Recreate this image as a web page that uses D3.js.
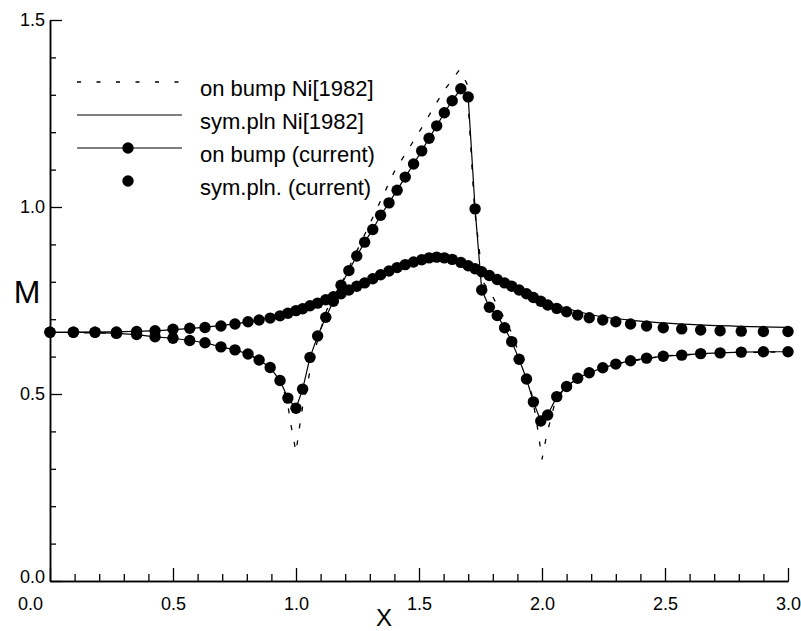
<!DOCTYPE html>
<html><head><meta charset="utf-8">
<script src="https://cdn.jsdelivr.net/npm/d3@7"></script>
<style>
body{margin:0;background:#fff}
svg{display:block}
text{font-family:"Liberation Sans",Arial,Helvetica,sans-serif;fill:#000}
</style>
</head><body>
<svg id="chart" width="801" height="631"></svg>
<script>
// ---- data ----
const gridX = [0, 0.095, 0.183, 0.27, 0.352, 0.427, 0.50, 0.568, 0.63, 0.695, 0.752, 0.805, 0.85, 0.895, 0.935, 0.967, 1.0,
  1.027, 1.057, 1.088, 1.121, 1.152, 1.183, 1.215, 1.247, 1.279, 1.312, 1.344, 1.378, 1.411, 1.444, 1.478, 1.511,
  1.541, 1.572, 1.603, 1.635, 1.670, 1.700, 1.728, 1.755, 1.786, 1.818, 1.848, 1.877, 1.907, 1.937, 1.965, 1.995,
  2.023, 2.06, 2.10, 2.145, 2.192, 2.247, 2.30, 2.36, 2.425, 2.493, 2.568, 2.645, 2.724, 2.81, 2.90, 3.0];

const onBumpCurrent = [0.665, 0.665, 0.665, 0.662, 0.659, 0.653, 0.649, 0.643, 0.637, 0.626, 0.618, 0.607, 0.591, 0.571, 0.536, 0.489, 0.462,
  0.513, 0.598, 0.655, 0.705, 0.748, 0.791, 0.830, 0.869, 0.906, 0.940, 0.978, 1.011, 1.045, 1.080, 1.115, 1.150,
  1.184, 1.217, 1.252, 1.284, 1.316, 1.294, 0.995, 0.778, 0.732, 0.710, 0.677, 0.640, 0.593, 0.540, 0.479, 0.428,
  0.444, 0.493, 0.520, 0.542, 0.557, 0.570, 0.580, 0.589, 0.596, 0.601, 0.604, 0.608, 0.610, 0.612, 0.613, 0.613];

const symPlnCurrent = [0.665, 0.665, 0.665, 0.666, 0.667, 0.669, 0.673, 0.676, 0.678, 0.682, 0.687, 0.693, 0.698, 0.703, 0.709, 0.716, 0.723,
  0.728, 0.736, 0.743, 0.752, 0.760, 0.768, 0.778, 0.788, 0.797, 0.808, 0.819, 0.829, 0.838, 0.846, 0.853, 0.859,
  0.864, 0.866, 0.864, 0.860, 0.852, 0.843, 0.835, 0.827, 0.817, 0.806, 0.797, 0.788, 0.778, 0.768, 0.758, 0.748,
  0.738, 0.729, 0.720, 0.711, 0.704, 0.698, 0.693, 0.687, 0.682, 0.677, 0.674, 0.671, 0.669, 0.668, 0.667, 0.667];

const niOnBumpX = [0, 0.3, 0.5, 0.7, 0.8, 0.9, 0.94, 0.965, 0.978, 1.0, 1.013, 1.03, 1.06, 1.09, 1.125, 1.2, 1.226, 1.3, 1.4, 1.5, 1.6, 1.664,
  1.695, 1.725, 1.76, 1.789, 1.836, 1.874, 1.901, 1.931, 1.96, 1.981, 2.0, 2.015, 2.022, 2.05, 2.08, 2.12, 2.2, 2.3, 2.5, 2.7, 3.0];
const niOnBumpM = [0.665, 0.662, 0.650, 0.628, 0.610, 0.570, 0.530, 0.480, 0.422, 0.345, 0.406, 0.479, 0.570, 0.650, 0.725, 0.815, 0.853, 0.955, 1.095, 1.200, 1.310, 1.366,
  1.330, 1.000, 0.800, 0.773, 0.716, 0.667, 0.618, 0.564, 0.495, 0.413, 0.325, 0.377, 0.399, 0.470, 0.505, 0.530, 0.559, 0.581, 0.602, 0.609, 0.613];

const niSymX = [0, 0.3, 0.6, 0.8, 1.0, 1.2, 1.4, 1.57, 1.75, 1.9, 2.0, 2.2, 2.4, 2.6, 2.8, 3.0];
const niSymM = [0.665, 0.667, 0.677, 0.692, 0.724, 0.773, 0.836, 0.867, 0.830, 0.782, 0.752, 0.712, 0.695, 0.686, 0.681, 0.678];

const xMajorTicks = [0, 0.5, 1.0, 1.5, 2.0, 2.5, 3.0];
const xMinorTicks = [0.1, 0.2, 0.3, 0.4, 0.6, 0.7, 0.8, 0.9, 1.1, 1.2, 1.3, 1.4, 1.6, 1.7, 1.8, 1.9, 2.1, 2.2, 2.3, 2.4, 2.6, 2.7, 2.8, 2.9];
const yMajorTicks = [0, 0.5, 1.0, 1.5];
const yMinorTicks = [0.1, 0.2, 0.3, 0.4, 0.6, 0.7, 0.8, 0.9, 1.1, 1.2, 1.3, 1.4];
const legendLabels = ["on bump Ni[1982]", "sym.pln Ni[1982]", "on bump (current)", "sym.pln. (current)"];
const xTitle = "X";
const yTitle = "M";

// ---- drawing ----
const svg = d3.select("#chart");
const x = d3.scaleLinear().domain([0, 3]).range([50, 788]);
const y = d3.scaleLinear().domain([0, 1.5]).range([581, 20]);
const fmt = d3.format(".1f");

function styleAxis(g) {
  g.attr("font-size", 18).attr("font-family", '"Liberation Sans", Arial, sans-serif');
  g.selectAll("path.domain").attr("stroke", "#000").attr("stroke-width", 1.5);
  g.selectAll(".tick line").attr("stroke", "#000").attr("stroke-width", 1.3);
  g.selectAll("text").attr("font-size", 18).attr("fill", "#000");
}

// x axis
const gxMinor = svg.append("g").attr("transform", `translate(0,${y(0)})`)
  .call(d3.axisBottom(x).tickValues(xMinorTicks).tickSizeInner(-7).tickSizeOuter(0).tickFormat(""));
styleAxis(gxMinor);
const gx = svg.append("g").attr("transform", `translate(0,${y(0)})`)
  .call(d3.axisBottom(x).tickValues(xMajorTicks).tickSizeInner(-13).tickSizeOuter(0).tickPadding(16).tickFormat(fmt));
styleAxis(gx);
gx.selectAll(".tick text").filter(d => d === 0).attr("dx", -20);

// y axis
const gyMinor = svg.append("g").attr("transform", `translate(${x(0)},0)`)
  .call(d3.axisLeft(y).tickValues(yMinorTicks).tickSizeInner(-6).tickSizeOuter(0).tickFormat(""));
styleAxis(gyMinor);
const gy = svg.append("g").attr("transform", `translate(${x(0)},0)`)
  .call(d3.axisLeft(y).tickValues(yMajorTicks).tickSizeInner(-12).tickSizeOuter(0).tickPadding(5).tickFormat(fmt));
styleAxis(gy);
gy.selectAll(".tick text").filter(d => d === 0).attr("dy", "0.1em");

// axis titles
svg.append("text").attr("x", 27).attr("y", 292).attr("text-anchor", "middle").attr("dominant-baseline", "central")
  .attr("font-size", 32).attr("font-weight", 300).text(yTitle);
svg.append("text").attr("x", 384).attr("y", 626).attr("text-anchor", "middle")
  .attr("font-size", 24).attr("font-weight", 300).text(xTitle);

// lines
const lineNiSym = d3.line().x((d, i) => x(niSymX[i])).y(d => y(d)).curve(d3.curveMonotoneX);
svg.append("path").attr("d", lineNiSym(niSymM)).attr("fill", "none").attr("stroke", "#000").attr("stroke-width", 1.2);

const lineNiBump = d3.line().x((d, i) => x(niOnBumpX[i])).y(d => y(d));
svg.append("path").attr("d", lineNiBump(niOnBumpM)).attr("fill", "none").attr("stroke", "#000")
  .attr("stroke-width", 1.3).attr("stroke-dasharray", "5,12");

const lineCur = d3.line().x((d, i) => x(gridX[i])).y(d => y(d));
svg.append("path").attr("d", lineCur(onBumpCurrent)).attr("fill", "none").attr("stroke", "#000").attr("stroke-width", 1.2);

// markers
const R = 5.7;
svg.append("g").selectAll("circle").data(symPlnCurrent).join("circle")
  .attr("cx", (d, i) => x(gridX[i])).attr("cy", d => y(d)).attr("r", R).attr("fill", "#000");
svg.append("g").selectAll("circle").data(onBumpCurrent).join("circle")
  .attr("cx", (d, i) => x(gridX[i])).attr("cy", d => y(d)).attr("r", R).attr("fill", "#000");

// legend
const lg = svg.append("g");
const rowY = [82, 115, 148, 181];
const lx1 = 77, lx2 = 182, lmx = 128, ltx = 200;
lg.append("line").attr("x1", lx1).attr("x2", lx2).attr("y1", rowY[0]).attr("y2", rowY[0])
  .attr("stroke", "#000").attr("stroke-width", 1.3).attr("stroke-dasharray", "4,15.5");
lg.append("line").attr("x1", lx1).attr("x2", lx2).attr("y1", rowY[1]).attr("y2", rowY[1])
  .attr("stroke", "#000").attr("stroke-width", 1.2);
lg.append("line").attr("x1", lx1).attr("x2", lx2).attr("y1", rowY[2]).attr("y2", rowY[2])
  .attr("stroke", "#000").attr("stroke-width", 1.2);
lg.append("circle").attr("cx", lmx).attr("cy", rowY[2]).attr("r", R).attr("fill", "#000");
lg.append("circle").attr("cx", lmx).attr("cy", rowY[3]).attr("r", R).attr("fill", "#000");
lg.selectAll("text").data(legendLabels).join("text")
  .attr("x", ltx).attr("y", (d, i) => rowY[i] + 14).attr("font-size", 22).text(d => d);
</script>
</body></html>
